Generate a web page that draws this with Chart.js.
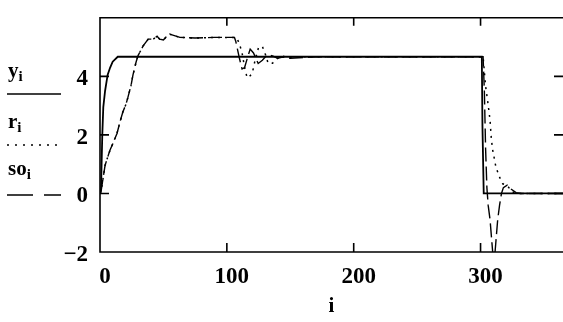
<!DOCTYPE html>
<html>
<head>
<meta charset="utf-8">
<script src="https://cdn.jsdelivr.net/npm/chart.js@4.4.1/dist/chart.umd.min.js"></script>
<style>
  html, body { margin: 0; padding: 0; background: #fff; }
  #wrap { width: 563px; height: 322px; }
</style>
</head>
<body>
<div id="wrap"><canvas id="plot" width="563" height="322"></canvas></div>
<script>
// y_i (solid)
const yIdx = [0, 0.8, 1.8, 2.6, 4, 6, 8, 10, 14, 301, 301.5, 302.5, 365];
const yVal = [0, 0.15, 2.0, 2.95, 3.5, 4.05, 4.3, 4.5, 4.67, 4.67, 2.3, 0, 0];

// r_i (dotted)
const rIdx = [0, 0.8, 2, 4, 6.5, 8, 10.3, 13.4, 15.8, 18, 20.5, 22, 24.5, 26, 28.4, 30, 34, 38, 42, 45, 47, 50, 52, 55, 58, 63, 75, 90, 106,
  108, 110, 112, 114, 116, 118, 120, 122, 125, 128, 130, 132.6, 136, 139.5, 143, 148, 155,
  302, 304, 306, 307.5, 308.5, 309.5, 312, 314.5, 317.5, 321, 325, 330, 365];
const rVal = [0, 0.06, 0.4, 0.96, 1.3, 1.49, 1.72, 2.05, 2.45, 2.78, 3.05, 3.28, 3.7, 4.05, 4.48, 4.71, 5.04, 5.27, 5.27, 5.37, 5.27, 5.24, 5.34, 5.44, 5.4, 5.33, 5.31, 5.33, 5.33,
  5.3, 5.1, 4.8, 4.3, 3.95, 4.0, 4.1, 4.5, 4.99, 5.02, 4.8, 4.44, 4.45, 4.6, 4.7, 4.64, 4.67,
  4.67, 3.66, 3.03, 2.5, 1.87, 1.5, 0.93, 0.6, 0.33, 0.27, 0.05, 0, 0];

// so_i (dashed)
const soIdx = [0, 0.8, 2, 4, 6.5, 8, 10.3, 13.4, 15.8, 18, 20.5, 22, 24.5, 26, 28.4, 30, 34, 38, 42, 45, 47, 50, 52, 55, 58, 63, 75, 90, 106,
  107, 110, 112, 114, 116, 118.4, 121, 124.7, 128, 132, 136, 140, 144, 150, 170,
  302, 303, 304, 305, 306, 307.5, 309, 310.5, 312, 313.5, 315, 316.5, 318, 321, 324, 328, 332, 365];
const soVal = [0, 0.06, 0.4, 0.96, 1.3, 1.49, 1.72, 2.05, 2.45, 2.78, 3.05, 3.28, 3.7, 4.05, 4.48, 4.71, 5.04, 5.27, 5.27, 5.37, 5.27, 5.24, 5.34, 5.44, 5.4, 5.33, 5.31, 5.33, 5.33,
  5.2, 4.6, 4.25, 4.3, 4.6, 4.93, 4.8, 4.44, 4.55, 4.74, 4.7, 4.62, 4.66, 4.62, 4.67,
  4.67, 3.5, 1.5, 0.2, -0.4, -0.9, -1.7, -2.5, -1.7, -0.9, -0.4, 0, 0.2, 0.28, 0.15, 0.03, 0, 0];

const xTicks = [0, 100, 200, 300];
const xTickText = ["0", "100", "200", "300"];
const yTicks = [-2, 0, 2, 4];
const yTickText = ["\u22122", "0", "2", "4"];

const serif = "'Liberation Serif', 'DejaVu Serif', serif";

const pts = (xs, ys) => xs.map((v, k) => ({ x: v, y: ys[k] }));

// Mathcad-style box with inward ticks
const boxPlugin = {
  id: "box",
  afterDraw(chart) {
    const { ctx, chartArea, scales } = chart;
    const { left, top, right, bottom } = chartArea;
    ctx.save();
    ctx.strokeStyle = "#000";
    ctx.lineWidth = 1.6;
    ctx.beginPath();
    ctx.moveTo(right + 2, top);
    ctx.lineTo(left, top);
    ctx.lineTo(left, bottom);
    ctx.lineTo(right + 2, bottom);
    [0, 2, 4].forEach((v) => {
      const py = scales.y.getPixelForValue(v);
      ctx.moveTo(left, py);
      ctx.lineTo(left + 9, py);
      ctx.moveTo(right, py);
      ctx.lineTo(right - 9, py);
    });
    [100, 200, 300].forEach((v) => {
      const px = scales.x.getPixelForValue(v);
      ctx.moveTo(px, top);
      ctx.lineTo(px, top + 8);
      ctx.moveTo(px, bottom);
      ctx.lineTo(px, bottom - 9);
    });
    ctx.stroke();
    ctx.restore();
  }
};

// legend on the left: name with subscript, line sample under it
const legendPlugin = {
  id: "sideLegend",
  afterDraw(chart) {
    const ctx = chart.ctx;
    const items = [
      { name: "y", base: 77, line: 94, dash: [] },
      { name: "r", base: 128, line: 145, dash: [2, 6] },
      { name: "so", base: 175, line: 195, dash: [26, 11] }
    ];
    ctx.save();
    ctx.fillStyle = "#000";
    ctx.textBaseline = "alphabetic";
    items.forEach((it) => {
      ctx.font = "bold 21px " + serif;
      ctx.fillText(it.name, 8, it.base);
      const w = ctx.measureText(it.name).width;
      ctx.font = "bold 15px " + serif;
      ctx.fillText("i", 8 + w, it.base + 4);
      ctx.strokeStyle = "#000";
      ctx.lineWidth = 1.5;
      ctx.setLineDash(it.dash);
      ctx.beginPath();
      ctx.moveTo(7, it.line);
      ctx.lineTo(61, it.line);
      ctx.stroke();
    });
    ctx.restore();
  }
};

new Chart(document.getElementById("plot"), {
  type: "line",
  data: {
    datasets: [
      { label: "y", data: pts(yIdx, yVal), borderColor: "#000", borderWidth: 1.8 },
      { label: "r", data: pts(rIdx, rVal), borderColor: "#000", borderWidth: 1.5, borderDash: [2, 5] },
      { label: "so", data: pts(soIdx, soVal), borderColor: "#000", borderWidth: 1.4, borderDash: [14, 5] }
    ]
  },
  options: {
    responsive: false,
    devicePixelRatio: 1,
    animation: false,
    layout: { padding: { top: 11, right: 0, left: 0, bottom: 0 } },
    elements: { point: { radius: 0 }, line: { tension: 0, fill: false } },
    plugins: { legend: { display: false }, tooltip: { enabled: false } },
    scales: {
      x: {
        type: "linear",
        min: 0,
        max: 365,
        grid: { display: false },
        border: { display: false },
        afterBuildTicks: (s) => { s.ticks = xTicks.map((v) => ({ value: v })); },
        afterFit: (s) => { s.height = 70; },
        ticks: {
          color: "#000",
          font: { family: serif, size: 23, weight: "bold" },
          padding: 3,
          labelOffset: 5,
          maxRotation: 0,
          autoSkip: false,
          callback: (v) => xTickText[xTicks.indexOf(v)]
        },
        title: {
          display: true,
          text: "i",
          color: "#000",
          font: { family: serif, size: 21, weight: "bold" },
          padding: { top: 0, bottom: 3 }
        }
      },
      y: {
        min: -2,
        max: 6,
        grid: { display: false },
        border: { display: false },
        afterBuildTicks: (s) => { s.ticks = yTicks.map((v) => ({ value: v })); },
        afterFit: (s) => { s.width = 100; },
        ticks: {
          color: "#000",
          font: { family: serif, size: 23, weight: "bold" },
          padding: 4,
          labelOffset: 3,
          autoSkip: false,
          callback: (v) => yTickText[yTicks.indexOf(v)]
        }
      }
    }
  },
  plugins: [boxPlugin, legendPlugin]
});
</script>
</body>
</html>
